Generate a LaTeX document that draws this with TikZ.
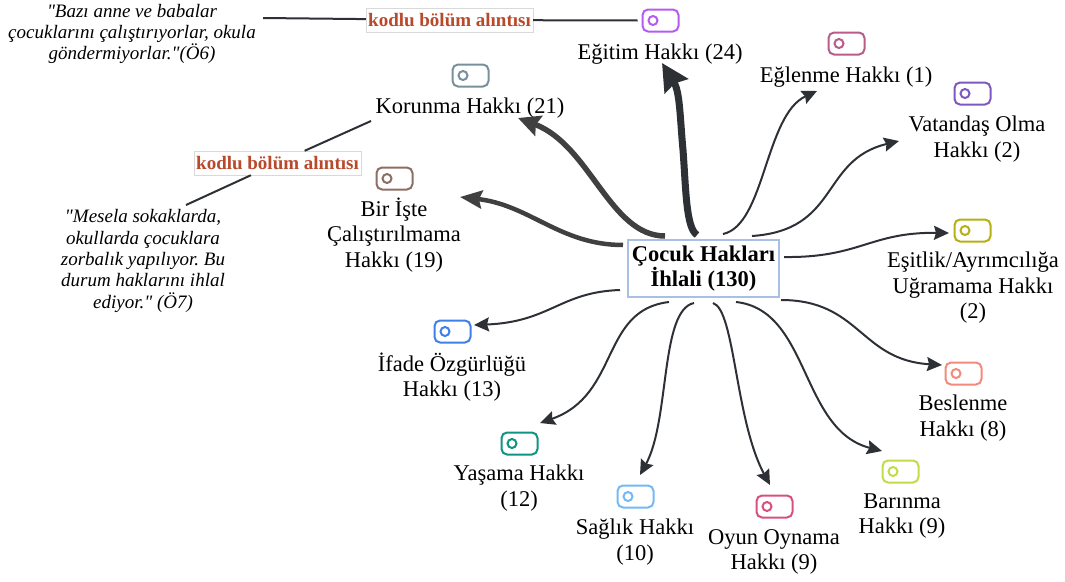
\documentclass[tikz,border=0pt]{standalone}
\usepackage{fontspec}
\setmainfont[Ligatures=TeXOff]{Liberation Serif}
\usetikzlibrary{arrows.meta}
\definecolor{egitimcol}{HTML}{B45CF0}
\definecolor{eglenmecol}{HTML}{B85C8A}
\definecolor{vatandascol}{HTML}{7E57C2}
\definecolor{esitlikcol}{HTML}{B5B014}
\definecolor{beslenmecol}{HTML}{F28B7D}
\definecolor{barinmacol}{HTML}{C0DC48}
\definecolor{oyuncol}{HTML}{D8517E}
\definecolor{saglikcol}{HTML}{74B9F5}
\definecolor{yasamacol}{HTML}{0E9480}
\definecolor{ifadecol}{HTML}{3F7FE8}
\definecolor{isCol}{HTML}{8D6E63}
\definecolor{korunmacol}{HTML}{78909C}
\definecolor{kodcol}{HTML}{B8492B}
\definecolor{linecol}{HTML}{2D3136}
\definecolor{cocukcol}{HTML}{A9C0E6}
\tikzset{
  lbl/.style={align=center,inner sep=0pt,font=\fontsize{22.5}{25.5}\selectfont},
  quotetxt/.style={align=center,inner sep=0pt,font=\fontsize{19}{21.3}\selectfont\itshape\frenchspacing},
  kod/.style={draw=black!15,fill=white,text=kodcol,inner sep=0pt,minimum width=167pt,minimum height=24pt,font=\fontsize{19}{20}\selectfont\bfseries},
  tagbox/.style={draw=#1,line width=2pt,rounded corners=5.5pt,minimum width=36pt,minimum height=22pt,inner sep=0pt},
  tagdot/.style={circle,draw=#1,line width=2pt,minimum size=9pt,inner sep=0pt},
  thin arrow/.style={draw=linecol,line width=2pt,-{Stealth[length=15pt,width=14pt,inset=2pt]}},
  quoteline/.style={draw=linecol,line width=2pt},
}
\begin{document}
\begin{tikzpicture}[x=1pt,y=-1pt]
\useasboundingbox (0,0) rectangle (1065,581);
% tags
\foreach \nm/\x/\y/\col in {egitim/660.5/20.5/egitimcol,eglenme/846.5/43.5/eglenmecol,vatandas/972.5/93.5/vatandascol,esitlik/972.5/230.5/esitlikcol,beslenme/963.5/373.5/beslenmecol,barinma/900.5/471.5/barinmacol,oyun/774.5/506.5/oyuncol,saglik/635.5/496.5/saglikcol,yasama/519.5/443.5/yasamacol,ifade/452.5/331.5/ifadecol,is/394.5/178.5/isCol,korunma/470.5/75.5/korunmacol}{
    \node[tagbox=\col] (tag\nm) at (\x,\y) {};
    \node[tagdot=\col] (dot\nm) at ([xshift=-7.5pt]tag\nm.center) {};
}
% labels
\node[lbl] (egitim) at (660,54) {Eğitim Hakkı (24)};
\node[lbl] (eglenme) at (846,77) {Eğlenme Hakkı (1)};
\node[lbl] (vatandas) at (977,139) {Vatandaş Olma\\Hakkı (2)};
\node[lbl] (esitlik) at (973,288) {Eşitlik/Ayrımcılığa\\Uğramama Hakkı\\(2)};
\node[lbl] (beslenme) at (963,418) {Beslenme\\Hakkı (8)};
\node[lbl] (barinma) at (902,516) {Barınma\\Hakkı (9)};
\node[lbl] (oyun) at (774,552) {Oyun Oynama\\Hakkı (9)};
\node[lbl] (saglik) at (635,542) {Sağlık Hakkı\\(10)};
\node[lbl] (yasama) at (519,488) {Yaşama Hakkı\\(12)};
\node[lbl] (ifade) at (452,377) {İfade Özgürlüğü\\Hakkı (13)};
\node[lbl] (is) at (394,235) {Bir İşte\\Çalıştırılmama\\Hakkı (19)};
\node[lbl] (korunma) at (470,108) {Korunma Hakkı (21)};
\node[lbl,font=\fontsize{22.5}{25.5}\selectfont\bfseries,draw=cocukcol,line width=1.5pt,minimum width=151pt,minimum height=57pt] (cocuk) at (703.5,268.5) {Çocuk Hakları\\İhlali (130)};
\node[quotetxt] (alinti1) at (132,34) {"Bazı anne ve babalar\\çocuklarını çalıştırıyorlar, okula\\göndermiyorlar."(Ö6)};
\node[quotetxt] (alinti2) at (143,261) {"Mesela sokaklarda,\\okullarda çocuklara\\zorbalık yapılıyor. Bu\\durum haklarını ihlal\\ediyor." (Ö7)};
\node[kod] (kodbir) at (449.5,20) {kodlu bölüm alıntısı};
\node[kod] (kodiki) at (277.5,163) {kodlu bölüm alıntısı};
% connector ends
\coordinate (qbir) at (263,18);
\coordinate (qiki) at (186,205);
\coordinate (kiki) at (371,121);
\coordinate (segitim) at (697,235);
\coordinate (seglenme) at (723,234);
\coordinate (svatandas) at (752,236);
\coordinate (sesitlik) at (784,257);
\coordinate (skorunma) at (665,236);
\coordinate (sis) at (623,245);
\coordinate (sifade) at (620,290);
\coordinate (syasama) at (669,302);
\coordinate (ssaglik) at (694,303);
\coordinate (soyun) at (713,303);
\coordinate (sbarinma) at (736,302);
\coordinate (sbeslenme) at (781,300);
\coordinate (tegitim) at (662,63);
\coordinate (teglenme) at (817,91);
\coordinate (tvatandas) at (899,141);
\coordinate (tesitlik) at (949,233);
\coordinate (tkorunma) at (518,118);
\coordinate (tis) at (460,197);
\coordinate (tifade) at (474,325);
\coordinate (tyasama) at (540,423);
\coordinate (tsaglik) at (640,475);
\coordinate (toyun) at (770,485);
\coordinate (tbarinma) at (882,451);
\coordinate (tbeslenme) at (942,365);
% quote lines
\draw[quoteline] (qbir) -- (kodbir);
\draw[quoteline] (kodbir) -- ([xshift=-4pt]tagegitim.west);
\draw[quoteline] (kiki) -- (kodiki);
\draw[quoteline] (kodiki) -- (qiki);
% arrows
\draw[draw=linecol,line width=7pt,-{Stealth[length=27pt,width=27pt,inset=3pt]}] (segitim) .. controls (686,228) and (686,190) .. (683,150) .. controls (680,118) and (680,92) .. (tegitim);
\draw[draw=black!75,line width=5.5pt,-{Stealth[length=22pt,width=21pt,inset=3pt]}] (skorunma) .. controls (610,236) and (590,145) .. (tkorunma);
\draw[draw=black!75,line width=4.5pt,-{Stealth[length=22pt,width=18pt,inset=3pt]}] (sis) .. controls (560,245) and (530,205) .. (tis);
\draw[thin arrow] (seglenme) .. controls (765,225) and (765,115) .. (teglenme);
\draw[thin arrow] (svatandas) .. controls (840,230) and (820,160) .. (tvatandas);
\draw[thin arrow] (sesitlik) .. controls (860,258) and (870,232) .. (tesitlik);
\draw[thin arrow] (sifade) .. controls (560,292) and (550,322) .. (tifade);
\draw[thin arrow] (syasama) .. controls (600,310) and (620,395) .. (tyasama);
\draw[thin arrow] (ssaglik) .. controls (660,310) and (670,420) .. (tsaglik);
\draw[thin arrow] (soyun) .. controls (735,310) and (735,420) .. (toyun);
\draw[thin arrow] (sbarinma) .. controls (810,310) and (800,430) .. (tbarinma);
\draw[thin arrow] (sbeslenme) .. controls (860,300) and (860,360) .. (tbeslenme);
\end{tikzpicture}
\end{document}
